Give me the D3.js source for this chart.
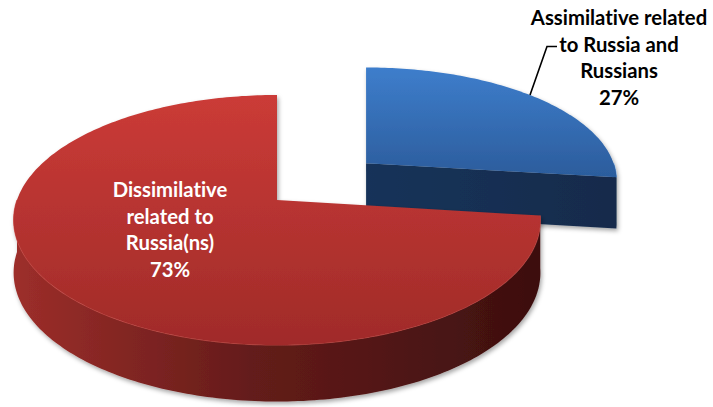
<!DOCTYPE html>
<html>
<head>
<meta charset="utf-8">
<script src="https://cdn.jsdelivr.net/npm/d3@7"></script>
<style>
  html, body { margin: 0; padding: 0; background: #ffffff; }
  svg { display: block; }
  text { font-family: Lato, "Open Sans", sans-serif; font-weight: 700; font-variant-ligatures: none; font-feature-settings: "liga" 0; }
</style>
</head>
<body>
<svg id="chart" width="713" height="407"></svg>
<script>
// Share of references to Russia and Russians
const categories = ["Assimilative related to Russia and Russians", "Dissimilative related to Russia(ns)"];
const values = [27, 73];
const labelLines = [
  ["Assimilative related", "to Russia and", "Russians"],
  ["Dissimilative", "related to", "Russia(ns)"]
];
const percentLabels = ["27%", "73%"];
const exploded = [true, false];

const svg = d3.select("#chart");
const defs = svg.append("defs");

// ---- 3D pie projection (tilted disc seen in perspective) ----
const cx = 277, cy = 200;          // pie centre on screen
const rx = 260;                    // horizontal radius
const ry = 121.8;                  // vertical radius factor
const persp = 0.16;                // perspective on the tilted plane
const depth = 52;                  // disc thickness
const depthPersp = 0.08;
const explodeDist = 0.48;          // explode distance in radii

const xScale = d3.scaleLinear().domain([-1, 1]).range([-rx, rx]);
// (ou, ov): slice centre on the unit disc plane; (su, sv): point relative to it; z: 0 top, 1 bottom
function project(ou, ov, su, sv, z) {
  const v = ov + sv;
  const x = cx + xScale(ou) / (1 - persp * ov) + xScale(su) / (1 - persp * v);
  const y = cy + ry * v / (1 - persp * v) + depth * z / (1 - depthPersp * v);
  return [x, y];
}

const pie = d3.pie().sort(null).startAngle(0).endAngle(2 * Math.PI);
const arcs = pie(values);

// gradients
function linGrad(id, x1, y1, x2, y2, stops) {
  const g = defs.append("linearGradient").attr("id", id)
    .attr("gradientUnits", "userSpaceOnUse")
    .attr("x1", x1).attr("y1", y1).attr("x2", x2).attr("y2", y2);
  stops.forEach(([o, c]) => g.append("stop").attr("offset", o).attr("stop-color", c));
}
linGrad("blueTop", 0, 60, 0, 175, [[0, "#3f80cf"], [1, "#2c5d9d"]]);
linGrad("blueSide", 360, 0, 620, 0, [[0, "#17335a"], [1, "#142b4b"]]);
linGrad("redTop", 0, 95, 0, 345, [[0, "#cb3b37"], [1, "#a02b29"]]);
linGrad("redSide", 14, 0, 540, 0, [[0, "#9d2e2a"], [0.45, "#641c1a"], [1, "#3c0f0f"]]);

const shadow = defs.append("filter").attr("id", "shadow")
  .attr("x", "-10%").attr("y", "-10%").attr("width", "120%").attr("height", "130%");
shadow.append("feDropShadow").attr("dx", 1.5).attr("dy", 2.5)
  .attr("stdDeviation", 2).attr("flood-color", "#000").attr("flood-opacity", 0.35);

const fills = [
  { top: "url(#blueTop)", side: "url(#blueSide)", rim: "#4a8ad6" },
  { top: "url(#redTop)", side: "url(#redSide)", rim: "#d2504b" }
];

const line = d3.line();
function sampleAngles(a0, a1, step) {
  const n = Math.max(2, Math.ceil((a1 - a0) / step));
  return d3.range(n + 1).map(i => a0 + (a1 - a0) * i / n);
}

function sliceGeometry(a, i) {
  const mid = (a.startAngle + a.endAngle) / 2;
  const d = exploded[i] ? explodeDist : 0;
  const ou = d * Math.sin(mid), ov = -d * Math.cos(mid);
  const rim = (t, z) => project(ou, ov, Math.sin(t), -Math.cos(t), z);
  const centre = z => project(ou, ov, 0, 0, z);
  return { rim, centre };
}

// farther (exploded) slice first, then the front slice
[0, 1].forEach(i => {
  const a = arcs[i];
  const { rim, centre } = sliceGeometry(a, i);
  const g = svg.append("g").attr("filter", "url(#shadow)");
  const step = Math.PI / 180;

  // cut faces that face the viewer
  const endNormal = -Math.cos(a.endAngle + Math.PI / 2);
  if (endNormal > 0.05) {
    g.append("path")
      .attr("d", line([centre(0), rim(a.endAngle, 0), rim(a.endAngle, 1), centre(1)]) + "Z")
      .attr("fill", fills[i].side);
  }
  const startNormal = -Math.cos(a.startAngle - Math.PI / 2);
  if (startNormal > 0.05) {
    g.append("path")
      .attr("d", line([centre(0), rim(a.startAngle, 0), rim(a.startAngle, 1), centre(1)]) + "Z")
      .attr("fill", fills[i].side);
  }

  // outer wall: the part of the rim on the near half of the disc
  const s0 = Math.max(a.startAngle, Math.PI / 2), s1 = Math.min(a.endAngle, 3 * Math.PI / 2);
  if (s1 > s0) {
    const ts = sampleAngles(s0, s1, step);
    const pts = ts.map(t => rim(t, 0)).concat(ts.slice().reverse().map(t => rim(t, 1)));
    g.append("path").attr("d", line(pts) + "Z").attr("fill", fills[i].side);
    g.append("path").attr("d", line(ts.map(t => rim(t, 0))))
      .attr("fill", "none").attr("stroke", fills[i].rim)
      .attr("stroke-width", 1.2).attr("stroke-opacity", 0.7);
  }

  // top face
  const tt = sampleAngles(a.startAngle, a.endAngle, step);
  g.append("path")
    .attr("d", line([centre(0)].concat(tt.map(t => rim(t, 0)))) + "Z")
    .attr("fill", fills[i].top);
});

// ---- labels ----
const lineH = 26.5;
const fontSize = 20.3;

// exploded slice: label outside with a leader line
const blueLabel = { x: 619, y: 25 };
const blueGeo = sliceGeometry(arcs[0], 0);
const leaderStart = blueGeo.rim(47 * Math.PI / 180, 0);
const elbowY = blueLabel.y + lineH - 5;
const elbowX = 547;
svg.append("path")
  .attr("d", line([leaderStart, [elbowX, elbowY], [elbowX + 10, elbowY]]))
  .attr("fill", "none").attr("stroke", "#000").attr("stroke-width", 1.6);

const blueText = svg.append("text")
  .attr("x", blueLabel.x).attr("y", blueLabel.y)
  .attr("text-anchor", "middle").attr("font-size", fontSize).attr("fill", "#000");
labelLines[0].concat([percentLabels[0]]).forEach((t, k) => {
  blueText.append("tspan").attr("x", blueLabel.x).attr("y", blueLabel.y + k * lineH).text(t);
});

// front slice: label inside
const redLabel = { x: 170, y: 197 };
const redText = svg.append("text")
  .attr("x", redLabel.x).attr("y", redLabel.y)
  .attr("text-anchor", "middle").attr("font-size", fontSize).attr("fill", "#ffffff");
labelLines[1].concat([percentLabels[1]]).forEach((t, k) => {
  redText.append("tspan").attr("x", redLabel.x).attr("y", redLabel.y + k * lineH).text(t);
});
</script>
</body>
</html>
